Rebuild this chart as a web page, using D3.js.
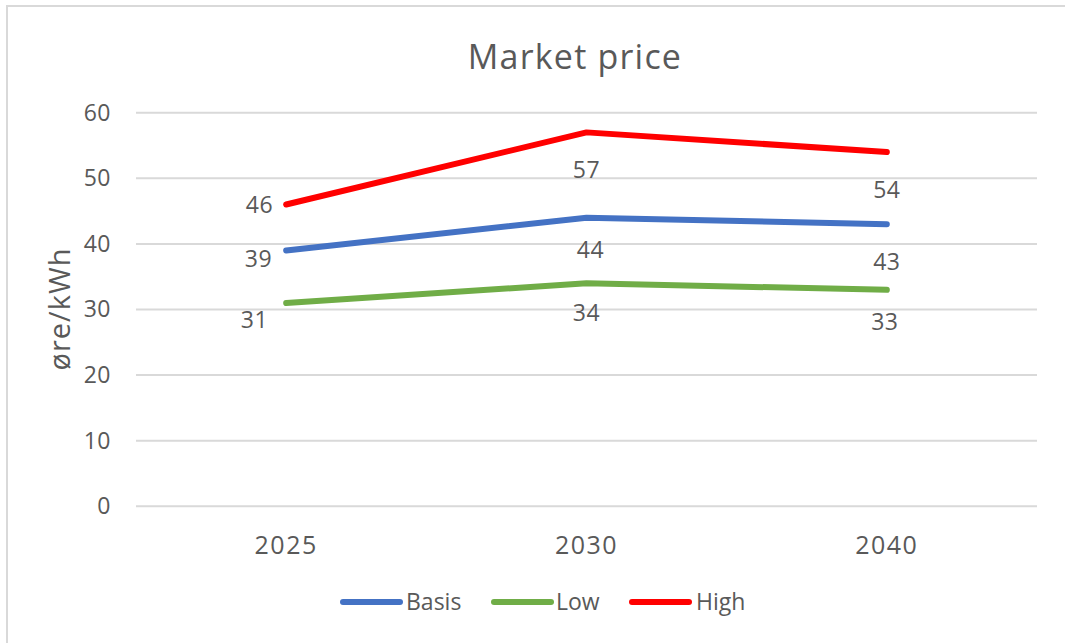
<!DOCTYPE html>
<html>
<head>
<meta charset="utf-8">
<script src="https://cdn.jsdelivr.net/npm/d3@7"></script>
<style>
  html, body { margin: 0; padding: 0; background: #fff; }
  svg { display: block; }
  text { font-family: "Open Sans", "Noto Sans", sans-serif; fill: #595959; }
</style>
</head>
<body>
<svg id="chart" width="1065" height="643"></svg>
<script>
// ---- data ----
const categories = ["2025", "2030", "2040"];
const seriesNames = ["Basis", "Low", "High"];
const basisValues = [39, 44, 43];
const lowValues = [31, 34, 33];
const highValues = [46, 57, 54];
const yTicks = [0, 10, 20, 30, 40, 50, 60];
const chartTitle = "Market price";
const yTitle = "øre/kWh";

// ---- layout ----
const W = 1065, H = 643;
const plot = { left: 136, right: 1037, top: 112.7, bottom: 506.3 };
const colors = { Basis: "#4472C4", Low: "#70AD47", High: "#FF0000" };
// label nudges (dx, dy in px) for each series, per category
const labelNudge = {
  High:  [[-13, 0], [0, 38], [0, 38]],
  Basis: [[-14, 8], [4, 32], [0, 38]],
  Low:   [[-18, 17], [0, 30], [-2, 32]]
};

const series = [
  { name: "Basis", values: basisValues },
  { name: "Low", values: lowValues },
  { name: "High", values: highValues }
];

const svg = d3.select("#chart");

// outer frame (only top and left edges fall inside the canvas)
svg.append("rect")
  .attr("x", 7).attr("y", 6)
  .attr("width", W + 20).attr("height", H + 20)
  .attr("fill", "#fff")
  .attr("stroke", "#d9d9d9").attr("stroke-width", 2);

const x = d3.scaleBand().domain(categories).range([plot.left, plot.right]);
const y = d3.scaleLinear().domain([0, 60]).range([plot.bottom, plot.top]);

// gridlines
svg.append("g")
  .selectAll("line")
  .data(yTicks)
  .join("line")
  .attr("x1", plot.left).attr("x2", plot.right)
  .attr("y1", d => y(d)).attr("y2", d => y(d))
  .attr("stroke", "#d9d9d9").attr("stroke-width", 2);

// y axis labels
const yAxis = svg.append("g")
  .attr("transform", `translate(${plot.left},0)`)
  .call(d3.axisLeft(y).tickValues(yTicks).tickSize(0).tickPadding(25));
yAxis.select(".domain").remove();
yAxis.selectAll("text")
  .attr("font-size", 23)
  .attr("letter-spacing", 0.5)
  .attr("font-family", null)
  .attr("fill", "#595959");

// x axis labels
const xAxis = svg.append("g")
  .attr("transform", `translate(0,${plot.bottom})`)
  .call(d3.axisBottom(x).tickSize(0).tickPadding(30));
xAxis.select(".domain").remove();
xAxis.selectAll("text")
  .attr("font-size", 25)
  .attr("letter-spacing", 1.5)
  .attr("font-family", null)
  .attr("fill", "#595959");

// title
svg.append("text")
  .attr("x", 575).attr("y", 69)
  .attr("text-anchor", "middle")
  .attr("font-size", 34)
  .attr("letter-spacing", 1.2)
  .text(chartTitle);

// y axis title
svg.append("text")
  .attr("transform", `translate(70,${309}) rotate(-90)`)
  .attr("text-anchor", "middle")
  .attr("font-size", 29)
  .attr("letter-spacing", 1)
  .text(yTitle);

// lines
const line = d3.line()
  .x((d, i) => x(categories[i]) + x.bandwidth() / 2)
  .y(d => y(d));

svg.append("g")
  .selectAll("path")
  .data(series)
  .join("path")
  .attr("d", d => line(d.values))
  .attr("fill", "none")
  .attr("stroke", d => colors[d.name])
  .attr("stroke-width", 6)
  .attr("stroke-linecap", "round")
  .attr("stroke-linejoin", "round");

// data labels
series.forEach(s => {
  svg.append("g")
    .selectAll("text")
    .data(s.values)
    .join("text")
    .attr("x", (d, i) => x(categories[i]) + x.bandwidth() / 2 + labelNudge[s.name][i][0])
    .attr("y", (d, i) => y(d) + labelNudge[s.name][i][1])
    .attr("dy", "0.35em")
    .attr("text-anchor", (d, i) => i === 0 ? "end" : "middle")
    .attr("font-size", 23)
    .attr("letter-spacing", 0.5)
    .text(d => d);
});

// legend
const legendItems = [
  { name: "Basis", x0: 343, x1: 400, tx: 406 },
  { name: "Low", x0: 494, x1: 551, tx: 556 },
  { name: "High", x0: 632, x1: 689, tx: 696 }
];
const legend = svg.append("g");
legend.selectAll("line")
  .data(legendItems)
  .join("line")
  .attr("x1", d => d.x0).attr("x2", d => d.x1)
  .attr("y1", 602).attr("y2", 602)
  .attr("stroke", d => colors[d.name])
  .attr("stroke-width", 6)
  .attr("stroke-linecap", "round");
legend.selectAll("text")
  .data(legendItems)
  .join("text")
  .attr("x", d => d.tx).attr("y", 602)
  .attr("dy", "0.35em")
  .attr("font-size", 23)
  .text(d => d.name);
</script>
</body>
</html>
